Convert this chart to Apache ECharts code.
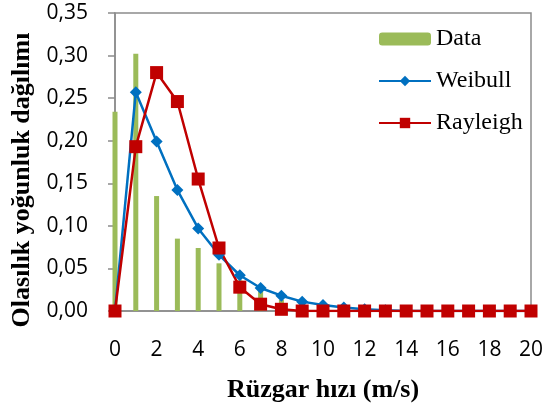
<!DOCTYPE html>
<html>
<head>
<meta charset="utf-8">
<script src="https://cdn.jsdelivr.net/npm/echarts@6/dist/echarts.min.js"></script>
<style>
  html, body { margin: 0; padding: 0; background: #fff; }
  #chart { width: 549px; height: 410px; }
</style>
</head>
<body>
<div id="chart"></div>
<script>
// Wind speed classes (m/s)
const speeds = [0,1,2,3,4,5,6,7,8,9,10,11,12,13,14,15,16,17,18,19,20];
// Observed frequency distribution
const dataValues = [0.234,0.302,0.135,0.085,0.074,0.056,0.036,0.025,0.013,0.004,0.002,0.001,0.001,0,0,0,0,0,0,0,0];
// Weibull fitted density
const weibullValues = [0,0.257,0.199,0.142,0.097,0.066,0.042,0.027,0.018,0.011,0.007,0.004,0.002,0.001,0,0,0,0,0,0,0];
// Rayleigh fitted density
const rayleighValues = [0,0.193,0.280,0.246,0.155,0.074,0.028,0.008,0.002,0,0,0,0,0,0,0,0,0,0,0,0];

const pairs = vals => speeds.map((s, i) => [s, vals[i]]);

const chart = echarts.init(document.getElementById('chart'), null, { renderer: 'canvas' });
chart.setOption({
  animation: false,
  grid: {
    left: 115, right: 18, top: 13, bottom: 99,
    show: true, borderColor: '#8c8c8c', borderWidth: 1.5, backgroundColor: 'transparent'
  },
  legend: {
    orient: 'vertical',
    left: 378, top: 27, padding: 0,
    itemWidth: 52, itemHeight: 13, itemGap: 18,
    textStyle: { fontFamily: 'Liberation Serif', fontSize: 24, color: '#000' },
    data: ['Data', 'Weibull', 'Rayleigh']
  },
  xAxis: {
    type: 'value', min: 0, max: 20, interval: 2,
    name: 'Rüzgar hızı (m/s)', nameLocation: 'middle', nameGap: 66,
    nameTextStyle: { fontFamily: 'Liberation Serif', fontWeight: 'bold', fontSize: 26, color: '#000' },
    axisLine: { lineStyle: { color: '#8c8c8c', width: 1.5 } },
    axisTick: { show: false },
    splitLine: { show: false },
    axisLabel: { fontFamily: 'Open Sans', fontSize: 21, color: '#000', margin: 29 }
  },
  yAxis: {
    type: 'value', min: 0, max: 0.35, interval: 0.05,
    name: 'Olasılık yoğunluk dağılımı', nameLocation: 'middle', nameGap: 80,
    nameTextStyle: {
      fontFamily: 'Liberation Serif', fontWeight: 'bold', fontSize: 26, color: '#000',
      padding: [0, 36, 0, 0]
    },
    axisLine: { show: true, lineStyle: { color: '#8c8c8c', width: 1.5 } },
    axisTick: { show: true, length: 7, lineStyle: { color: '#8c8c8c', width: 1.5 } },
    splitLine: { show: false },
    axisLabel: {
      fontFamily: 'Open Sans', fontSize: 21, color: '#000', margin: 27,
      formatter: v => v.toFixed(2).replace('.', ',')
    }
  },
  series: [
    {
      name: 'Data', type: 'bar', data: pairs(dataValues),
      barWidth: 5, clip: true,
      itemStyle: { color: '#9bbb59' }
    },
    {
      name: 'Weibull', type: 'line', data: pairs(weibullValues),
      symbol: 'diamond', symbolSize: 12,
      lineStyle: { color: '#0070c0', width: 2.5 },
      itemStyle: { color: '#0070c0' }
    },
    {
      name: 'Rayleigh', type: 'line', data: pairs(rayleighValues),
      symbol: 'rect', symbolSize: 13,
      lineStyle: { color: '#c00000', width: 2.5 },
      itemStyle: { color: '#c00000' }
    }
  ]
});
</script>
</body>
</html>
